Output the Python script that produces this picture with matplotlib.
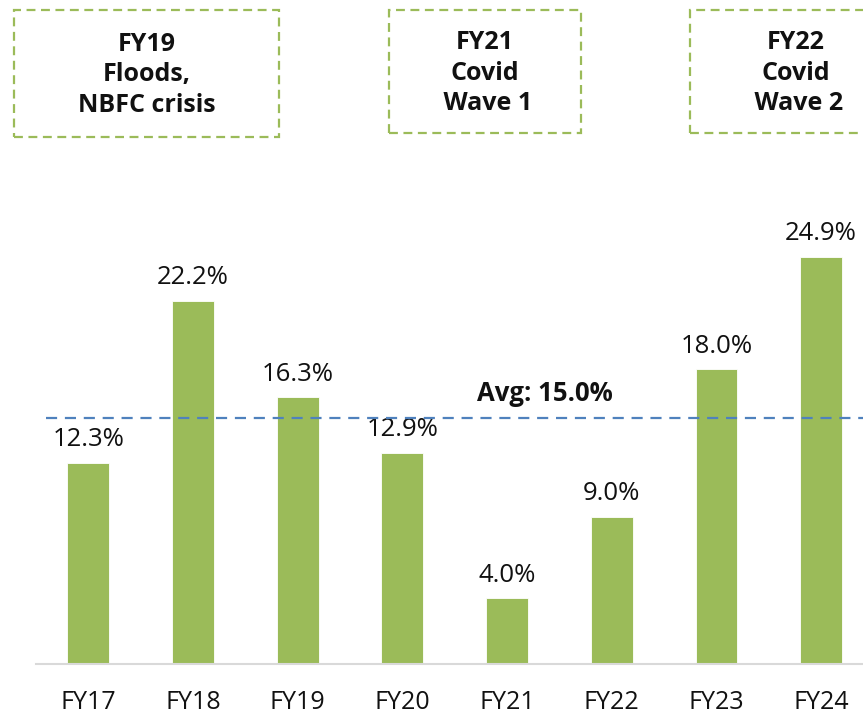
import matplotlib
matplotlib.use("Agg")
import matplotlib.pyplot as plt
from matplotlib.patches import Rectangle

plt.rcParams['font.family'] = ['Open Sans', 'DejaVu Sans']

categories = ["FY17", "FY18", "FY19", "FY20", "FY21", "FY22", "FY23", "FY24"]
growth = [12.3, 22.2, 16.3, 12.9, 4.0, 9.0, 18.0, 24.9]
average = 15.0
events = ["FY19\nFloods,\nNBFC crisis", "FY21\nCovid\n Wave 1", "FY22\nCovid\n Wave 2"]

BAR_COLOR = "#9BBB59"
AVG_COLOR = "#4F81BD"

W, H = 863, 714
fig = plt.figure(figsize=(W / 100, H / 100), dpi=100)
ax = fig.add_axes([36 / W, 1 - 663.7 / H, 1 - 36 / W, (663.7 - 238.6) / H])

x = range(len(categories))
bars = ax.bar(x, growth, width=0.4, color=BAR_COLOR, edgecolor="white", linewidth=0.6, zorder=2)
ax.set_xlim(-0.5, 7.4)
ax.set_ylim(0, 26)

for xi, v in zip(x, growth):
    ax.annotate(f"{v:.1f}%", (xi, v), xytext=(0, 7.5), textcoords="offset points",
                ha="center", va="bottom", fontsize=18.5, color="#111111", clip_on=False)

ax.axhline(average, xmin=(46 - 36) / (W - 36), xmax=1, color=AVG_COLOR, lw=1.6,
           dashes=(5, 3.5), zorder=3)
ax.text(4.36, average + 1.5, f"Avg: {average:.1f}%", ha="center", va="center",
        fontsize=18.5, fontweight="bold", color="#111111")

for s in ["top", "right", "left"]:
    ax.spines[s].set_visible(False)
ax.spines["bottom"].set_color("#D9D9D9")
ax.spines["bottom"].set_linewidth(1.5)
ax.set_yticks([])
ax.set_xticks(list(x))
ax.set_xticklabels(categories, fontsize=18, color="#111111")
ax.tick_params(axis="x", length=0, pad=19)

# dashed event boxes along the top
box_specs = [(14, 10, 265, 127), (389, 10, 192, 123), (690, 10, 190, 123)]
text_centers = [(147, 75), (485, 73), (796, 73)]
for (bx, by, bw, bh), (tx, ty), label in zip(box_specs, text_centers, events):
    rect = Rectangle((bx / W, 1 - (by + bh) / H), bw / W, bh / H, transform=fig.transFigure,
                     fill=False, edgecolor=BAR_COLOR, lw=1.6, linestyle=(0, (4, 2.5)))
    fig.patches.append(rect)
    fig.text(tx / W, 1 - ty / H, label, ha="center", va="center", fontsize=18,
             fontweight="bold", color="#111111", linespacing=1.27)

fig.savefig("out.png", dpi=100)
